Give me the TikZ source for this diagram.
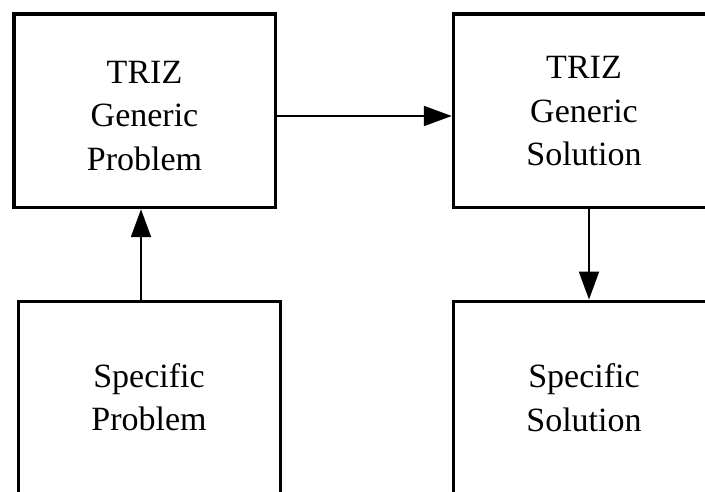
\documentclass[tikz,border=0pt]{standalone}
\usepackage{fontspec}
\setmainfont{Liberation Serif}
\usetikzlibrary{arrows.meta}

\tikzset{
  topbox/.style={draw=black, line width=3.5pt, minimum width=261.5pt, minimum height=193.5pt, inner sep=0pt},
  lowbox/.style={draw=black, line width=3pt, minimum width=261.5pt, minimum height=193.5pt, inner sep=0pt},
  boxtext/.style={align=center, inner sep=0pt, font=\fontsize{34pt}{43.5pt}\selectfont},
  flow/.style={line width=2pt, -{Triangle[length=28pt, width=20pt]}}
}

\begin{document}
\begin{tikzpicture}[x=1pt, y=-1pt]
  \useasboundingbox (0,0) rectangle (705,492);
  \clip (0,0) rectangle (705,492);

  % boxes
  \node[topbox] (gp) at (144.75,110.75) {};
  \node[topbox] (gs) at (584.25,110.75) {};
  \node[lowbox] (sp) at (149.3,398.25) {};
  \node[lowbox] (ss) at (583.8,397.8) {};

  % box labels
  \node[boxtext] (gpt) at (144.5,115.8) {TRIZ\\Generic\\Problem};
  \node[boxtext] (gst) at (584,111.5) {TRIZ\\Generic\\Solution};
  \node[boxtext] (spt) at (149,397) {Specific\\Problem};
  \node[boxtext] (sst) at (584,397.5) {Specific\\Solution};

  % flow between the stages (shifts are in page units, y grows upward)
  \draw[flow] ([xshift=-8.3pt]sp.north) -- ([xshift=-3.75pt]gp.south);
  \draw[flow] ([yshift=-5.25pt]gp.east) -- ([yshift=-5.25pt]gs.west);
  \draw[flow] ([xshift=4.75pt]gs.south) -- ([xshift=5.2pt]ss.north);
\end{tikzpicture}
\end{document}
